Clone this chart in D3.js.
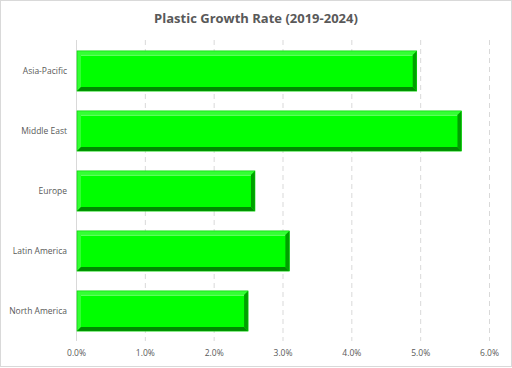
<!DOCTYPE html>
<html><head><meta charset="utf-8">
<script src="https://cdn.jsdelivr.net/npm/d3@7"></script>
<style>body{margin:0;background:#fff}svg{display:block}</style>
</head><body>
<script>
const categories = ["Asia-Pacific","Middle East","Europe","Latin America","North America"];
const values = [4.95, 5.6, 2.6, 3.1, 2.5];
const tickValues = [0,1,2,3,4,5,6];
const title = "Plastic Growth Rate (2019-2024)";

const W=512,H=368;
const svg=d3.select("body").append("svg").attr("width",W).attr("height",H);
svg.append("rect").attr("x",0.5).attr("y",0.5).attr("width",W-1).attr("height",H-2).attr("fill","#fff").attr("stroke","#d9d9d9");
svg.append("text").attr("x",256).attr("y",23).attr("text-anchor","middle")
  .attr("font-family","Open Sans, sans-serif").attr("font-weight","bold").attr("font-size",13).attr("fill","#595959").text(title);

const m={l:76,r:23,t:41,b:27};
const x=d3.scaleLinear().domain([0,6]).range([m.l,W-m.r]);
const y=d3.scaleBand().domain(categories).range([m.t,H-m.b]).paddingInner(0.33).paddingOuter(0.165);

// grid
svg.append("g").selectAll("line").data(tickValues.slice(1)).join("line")
  .attr("x1",d=>x(d)+0.5).attr("x2",d=>x(d)+0.5).attr("y1",m.t-1).attr("y2",H-m.b)
  .attr("stroke","#d9d9d9").attr("stroke-dasharray","5,4");
svg.append("line").attr("x1",x(0)+0.5).attr("x2",x(0)+0.5).attr("y1",m.t-1).attr("y2",H-m.b).attr("stroke","#d9d9d9");

const xa=d3.axisBottom(x).tickValues(tickValues).tickFormat(d=>d.toFixed(1)+"%").tickSize(0).tickPadding(8);
const gx=svg.append("g").attr("transform",`translate(0,${H-m.b+1})`).call(xa);
gx.select(".domain").remove();
gx.selectAll("text").attr("font-family","Open Sans, sans-serif").attr("font-size",8.5).attr("fill","#595959");

const ya=d3.axisLeft(y).tickSize(0).tickPadding(9);
const gy=svg.append("g").attr("transform",`translate(${m.l},0)`).call(ya);
gy.select(".domain").remove();
gy.selectAll("text").attr("font-family","Open Sans, sans-serif").attr("font-size",8.5).attr("fill","#595959");

const bev=4;
const bars=svg.append("g").selectAll("g").data(categories).join("g");
bars.each(function(c,i){
  const g=d3.select(this);
  const x0=x(0)+1, x1=x(values[i]), y0=y(c), y1=y(c)+y.bandwidth();
  g.append("rect").attr("x",x0).attr("y",y0).attr("width",x1-x0).attr("height",y1-y0).attr("fill","#00ff00");
  g.append("polygon").attr("points",`${x0},${y0} ${x1},${y0} ${x1-bev},${y0+bev} ${x0+bev},${y0+bev} ${x0+bev},${y1-bev} ${x0},${y1}`).attr("fill","#33ff33");
  g.append("line").attr("x1",x0+bev).attr("x2",x1-bev).attr("y1",y0+bev+0.5).attr("y2",y0+bev+0.5).attr("stroke","#66ff66");
  g.append("polygon").attr("points",`${x0},${y1} ${x1},${y1} ${x1-bev},${y1-bev} ${x0+bev},${y1-bev}`).attr("fill","#008a00");
  g.append("polygon").attr("points",`${x1},${y0} ${x1},${y1} ${x1-bev},${y1-bev} ${x1-bev},${y0+bev}`).attr("fill","#00a000");
  g.append("rect").attr("x",x0).attr("y",y0).attr("width",x1-x0).attr("height",y1-y0).attr("fill","none").attr("stroke","#00c800").attr("stroke-width",0.6);
});
</script>
</body></html>
